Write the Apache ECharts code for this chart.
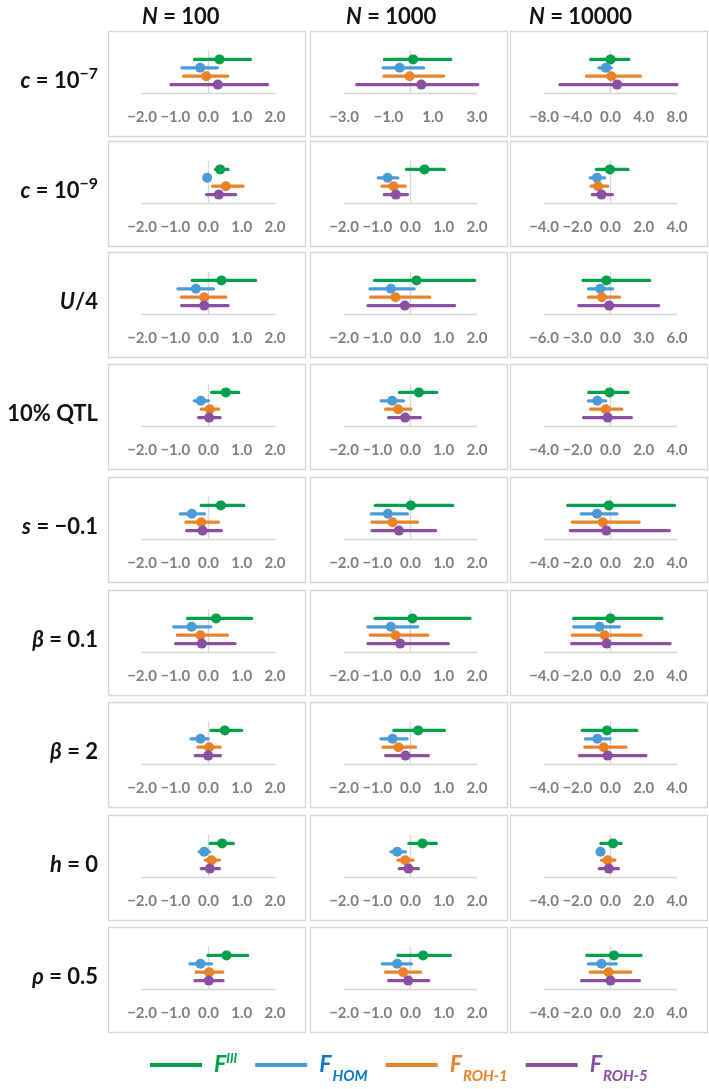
<!DOCTYPE html>
<html><head><meta charset="utf-8">
<script src="https://cdn.jsdelivr.net/npm/echarts@6/dist/echarts.min.js"></script>
<style>html,body{margin:0;padding:0;background:#fff}#c{width:709px;height:1089px}</style>
</head><body><div id="c"></div>
<script>
// ---------------- DATA ----------------
const colLabels = ['N = 100', 'N = 1000', 'N = 10000'];
const rowLabels = ['c = 10^-7', 'c = 10^-9', 'U/4', '10% QTL', 's = −0.1', 'β = 0.1', 'β = 2', 'h = 0', 'ρ = 0.5'];
const estimatorNames = ['FIII', 'FHOM', 'FROH-1', 'FROH-5'];

// axis [min, max, step] per row x column
const axisMin  = [[-2,-3,-8],[-2,-2,-4],[-2,-2,-6],[-2,-2,-4],[-2,-2,-4],[-2,-2,-4],[-2,-2,-4],[-2,-2,-4],[-2,-2,-4]];
const axisMax  = [[ 2, 3, 8],[ 2, 2, 4],[ 2, 2, 6],[ 2, 2, 4],[ 2, 2, 4],[ 2, 2, 4],[ 2, 2, 4],[ 2, 2, 4],[ 2, 2, 4]];
const axisStep = [[ 1, 2, 4],[ 1, 1, 2],[ 1, 1, 3],[ 1, 1, 2],[ 1, 1, 2],[ 1, 1, 2],[ 1, 1, 2],[ 1, 1, 2],[ 1, 1, 2]];

// F^III : lower / estimate / upper  (rows x [N=100, N=1000, N=10000])
const fIII_lo  = [[-0.42,-1.18,-2.4],[0.21,-0.12,-0.85],[-0.49,-1.08,-2.48],[0.09,-0.33,-1.31],[-0.22,-1.06,-2.57],[-0.63,-1.07,-2.22],[0.07,-0.50,-1.70],[0.05,-0.05,-0.58],[-0.02,-0.38,-1.43]];
const fIII_est = [[0.33,0.12,0.0],[0.35,0.42,-0.04],[0.39,0.18,-0.37],[0.52,0.25,-0.06],[0.37,0.01,-0.10],[0.23,0.06,0.0],[0.49,0.23,-0.21],[0.41,0.36,0.15],[0.54,0.38,0.21]];
const fIII_hi  = [[1.26,1.82,2.2],[0.59,1.02,1.06],[1.42,1.93,3.54],[0.91,0.79,1.06],[1.06,1.27,3.85],[1.30,1.79,3.09],[1.00,1.02,1.58],[0.75,0.78,0.64],[1.18,1.20,1.84]];
// F_HOM
const fHOM_lo  = [[-0.80,-1.24,-1.4],[-0.04,-0.97,-1.22],[-0.92,-1.22,-1.99],[-0.43,-0.88,-1.33],[-0.85,-1.18,-1.76],[-1.05,-1.28,-2.22],[-0.53,-0.89,-1.51],[-0.28,-0.59,-0.70],[-0.56,-0.85,-1.33]];
const fHOM_est = [[-0.25,-0.49,-0.56],[-0.04,-0.69,-0.81],[-0.38,-0.59,-0.93],[-0.23,-0.55,-0.79],[-0.50,-0.68,-0.81],[-0.51,-0.59,-0.66],[-0.24,-0.54,-0.79],[-0.13,-0.40,-0.60],[-0.24,-0.40,-0.54]];
const fHOM_hi  = [[0.27,0.59,0.1],[-0.04,-0.38,-0.35],[0.15,0.11,0.19],[0.0,-0.21,-0.29],[-0.12,-0.09,0.39],[0.07,0.22,0.54],[-0.01,-0.10,-0.02],[0.03,-0.15,-0.50],[0.09,0.03,0.35]];
// F_ROH-1
const fROH1_lo  = [[-0.75,-1.20,-2.9],[0.12,-0.86,-1.18],[-0.82,-1.20,-1.99],[-0.22,-0.75,-1.20],[-0.68,-1.16,-2.30],[-0.94,-1.21,-2.30],[-0.32,-0.83,-1.55],[-0.10,-0.38,-0.54],[-0.37,-0.75,-1.22]];
const fROH1_est = [[-0.07,-0.04,0.1],[0.52,-0.51,-0.75],[-0.13,-0.45,-0.78],[0.04,-0.37,-0.29],[-0.22,-0.54,-0.46],[-0.24,-0.45,-0.35],[0.02,-0.36,-0.41],[0.09,-0.16,-0.17],[0.02,-0.22,-0.12]];
const fROH1_hi  = [[0.58,1.49,3.6],[1.04,-0.16,-0.17],[0.52,0.58,0.81],[0.31,0.01,0.68],[0.30,0.21,1.72],[0.57,0.52,1.84],[0.35,0.15,0.93],[0.33,0.08,0.27],[0.43,0.30,1.22]];
// F_ROH-5
const fROH5_lo  = [[-1.13,-2.43,-6.1],[-0.06,-0.79,-1.10],[-0.81,-1.28,-2.86],[-0.30,-0.66,-1.62],[-0.66,-1.16,-2.42],[-0.99,-1.28,-2.34],[-0.40,-0.75,-1.87],[-0.22,-0.34,-0.68],[-0.41,-0.66,-1.74]];
const fROH5_est = [[0.28,0.49,0.8],[0.31,-0.44,-0.54],[-0.13,-0.17,-0.12],[0.02,-0.16,-0.17],[-0.18,-0.35,-0.25],[-0.20,-0.31,-0.23],[-0.01,-0.15,-0.17],[0.04,-0.06,-0.10],[0.01,-0.07,0.0]];
const fROH5_hi  = [[1.78,3.04,8.0],[0.82,-0.09,0.12],[0.59,1.33,4.35],[0.35,0.30,1.26],[0.39,0.76,3.54],[0.80,1.14,3.59],[0.36,0.54,2.13],[0.33,0.24,0.48],[0.44,0.55,1.74]];

// ---------------- LAYOUT / STYLE ----------------
const colX = [108, 310, 510];
const rowY = [31, 141, 252, 364, 477, 590, 702, 815, 927];
const headX = [142, 346, 529];
const panelW = 197, panelH = 105;
const COLORS = ['#00a04b', '#4a9bd6', '#e8832a', '#8b4f9f'];
const TEXTCOL = ['#00a04b', '#0b78c8', '#e8832a', '#8b4f9f'];
const FONT = 'Lato';
const GRAYLINE = '#d6d6dc';

const seriesData = [
  [fIII_lo, fIII_est, fIII_hi],
  [fHOM_lo, fHOM_est, fHOM_hi],
  [fROH1_lo, fROH1_est, fROH1_hi],
  [fROH5_lo, fROH5_est, fROH5_hi]
];

function fmt(v) {
  const s = Math.abs(v).toFixed(1);
  return (v < -1e-9 ? '−' : '') + s;
}

const grids = [], xAxes = [], yAxes = [], series = [], graphics = [];
for (let r = 0; r < rowY.length; r++) {
  for (let c = 0; c < colX.length; c++) {
    const idx = r * 3 + c;
    graphics.push({
      type: 'rect', shape: { x: colX[c] + 0.5, y: rowY[r] + 0.5, width: panelW, height: panelH },
      style: { fill: 'rgba(0,0,0,0)', stroke: GRAYLINE, lineWidth: 1.3 }, z: -10, silent: true
    });
    grids.push({ left: colX[c] + 34, top: rowY[r] + 20, width: 133, height: 42 });
    xAxes.push({
      gridIndex: idx, type: 'value', min: axisMin[r][c], max: axisMax[r][c], interval: axisStep[r][c],
      axisLine: { show: true, onZero: false, lineStyle: { color: GRAYLINE, width: 1.3 } },
      axisTick: { show: false }, splitLine: { show: false },
      axisLabel: { formatter: fmt, color: '#7f7f7f', fontFamily: FONT, fontWeight: 'bold', fontSize: 15, margin: 17 }
    });
    yAxes.push({
      gridIndex: idx, type: 'value', min: 0, max: 5,
      axisLine: { show: true, onZero: true, lineStyle: { color: GRAYLINE, width: 1.3 } },
      axisTick: { show: false }, axisLabel: { show: false }, splitLine: { show: false }
    });
    for (let k = 0; k < 4; k++) {
      const y = 4 - k;
      const lo = seriesData[k][0][r][c], est = seriesData[k][1][r][c], hi = seriesData[k][2][r][c];
      series.push({
        type: 'line', name: estimatorNames[k], xAxisIndex: idx, yAxisIndex: idx,
        data: [{ value: [lo, y], symbol: 'none' }, { value: [est, y] }, { value: [hi, y], symbol: 'none' }],
        symbol: 'circle', symbolSize: 10, showSymbol: true, animation: false, silent: true,
        lineStyle: { color: COLORS[k], width: 3.2, cap: 'round' },
        itemStyle: { color: COLORS[k] }, z: 3 + k
      });
    }
  }
}

// column headers and row labels
const headRich = {
  i: { fontFamily: FONT, fontSize: 22, fontWeight: 'bold', fontStyle: 'italic', fill: '#111' },
  n: { fontFamily: FONT, fontSize: 22, fontWeight: 'bold', fill: '#111' },
  s: { fontFamily: FONT, fontSize: 16, fontWeight: 'bold', fill: '#111', verticalAlign: 'top', lineHeight: 30 }
};
colLabels.forEach((t, c) => {
  const parts = t.split(' = ');
  graphics.push({
    type: 'text', x: headX[c], y: 17, silent: true,
    style: { text: '{i|' + parts[0] + '}{n| = ' + parts[1] + '}', rich: headRich, align: 'left', verticalAlign: 'middle' }
  });
});
function rowRich(t) {
  if (t.indexOf('^') >= 0) {
    const [a, b] = t.split('^');
    const [v, rest] = a.split(' = ');
    return '{i|' + v + '}{n| = ' + rest + '}{s|' + b.replace('-', '−') + '}';
  }
  if (t === 'U/4') return '{i|U}{n|/4}';
  if (t.indexOf(' = ') >= 0) {
    const [v, rest] = t.split(' = ');
    return '{i|' + v + '}{n| = ' + rest + '}';
  }
  return '{n|' + t + '}';
}
rowLabels.forEach((t, r) => {
  graphics.push({
    type: 'text', x: 98, y: rowY[r] + panelH / 2 - 3, silent: true,
    style: { text: rowRich(t), rich: headRich, align: 'right', verticalAlign: 'middle' }
  });
});

// legend
const legendRich = {};
const legendKeys = ['a', 'b', 'c', 'd'];
legendKeys.forEach((k, i) => {
  legendRich[k + 'F'] = { color: TEXTCOL[i], fontFamily: FONT, fontSize: 23, fontWeight: 'bold', fontStyle: 'italic', lineHeight: 26 };
  legendRich[k + 'sup'] = { color: TEXTCOL[i], fontFamily: FONT, fontSize: 13, fontWeight: 'bold', fontStyle: 'italic', verticalAlign: 'top', lineHeight: 14 };
  legendRich[k + 'sub'] = { color: TEXTCOL[i], fontFamily: FONT, fontSize: 15, fontWeight: 'bold', fontStyle: 'italic', verticalAlign: 'bottom', lineHeight: 14, padding: [0, 0, -6, 1] };
});
const legendText = {
  'FIII': '{aF|F}{asup|III}',
  'FHOM': '{bF|F}{bsub|HOM}',
  'FROH-1': '{cF|F}{csub|ROH-1}',
  'FROH-5': '{dF|F}{dsub|ROH-5}'
};

const chart = echarts.init(document.getElementById('c'), null, { renderer: 'canvas' });
chart.setOption({
  backgroundColor: '#ffffff',
  animation: false,
  color: COLORS,
  grid: grids, xAxis: xAxes, yAxis: yAxes, series: series,
  graphic: graphics,
  legend: {
    data: estimatorNames, left: 145, top: 1047, itemWidth: 52, itemHeight: 4, itemGap: 18,
    icon: 'rect', selectedMode: false,
    formatter: n => legendText[n],
    textStyle: { rich: legendRich, padding: [0, 0, 0, 7] }
  }
});
</script></body></html>
